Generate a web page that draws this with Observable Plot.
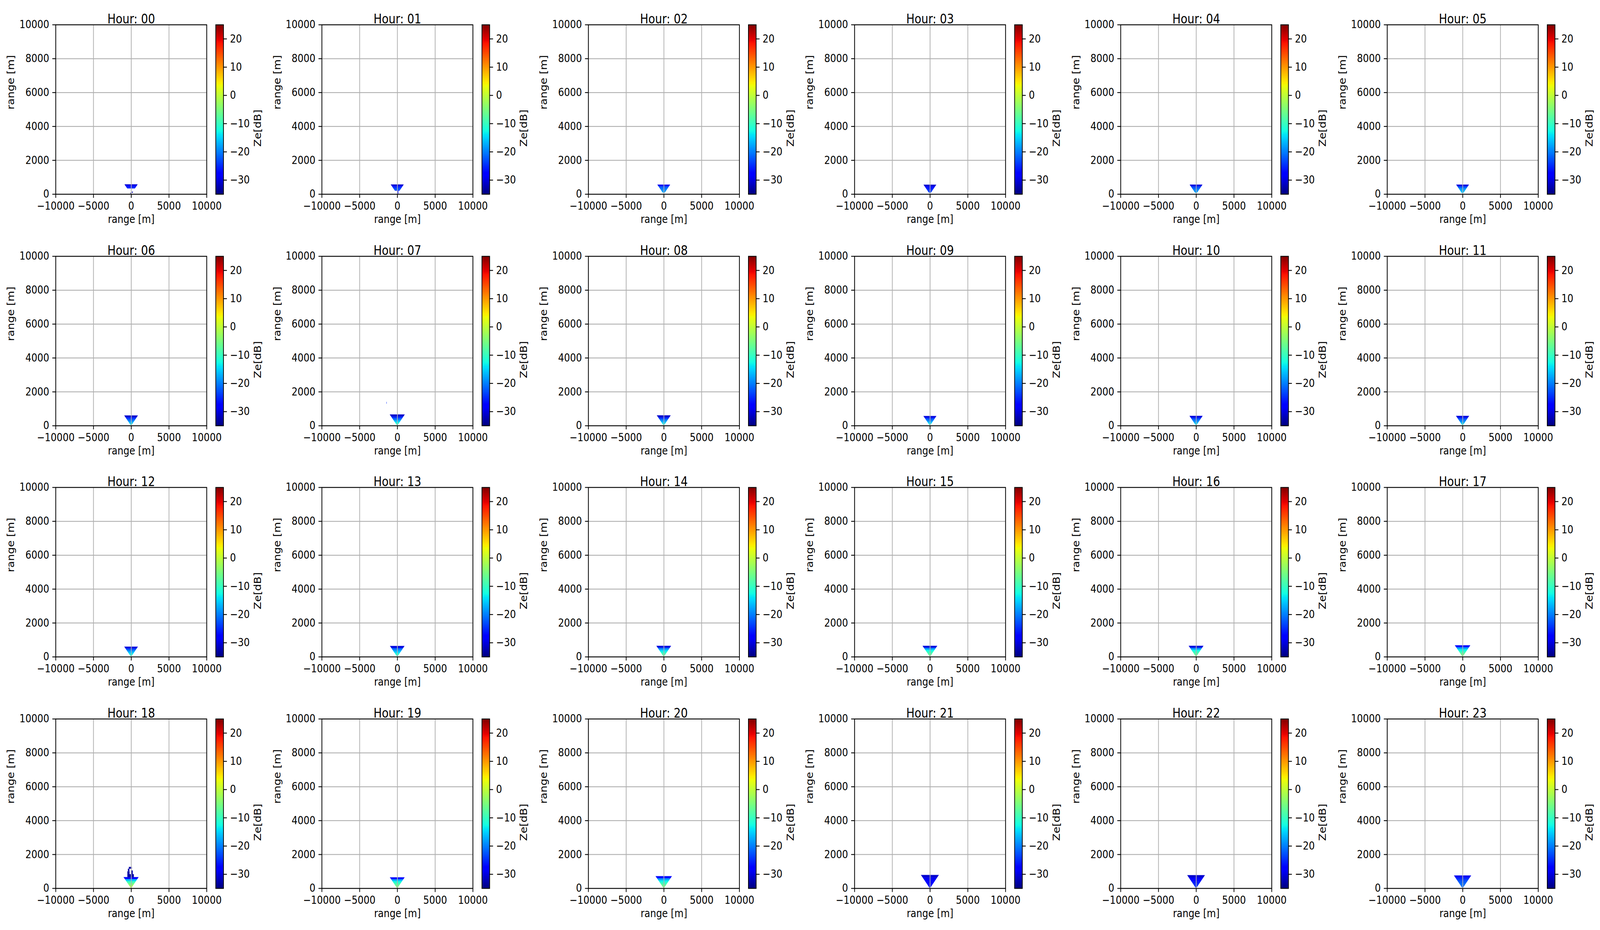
<!DOCTYPE html>
<html><head><meta charset="utf-8">
<script src="https://cdn.jsdelivr.net/npm/d3@7"></script>
<script src="https://cdn.jsdelivr.net/npm/@observablehq/plot@0.6"></script>
<style>
html,body{margin:0;padding:0;background:#fff;overflow:hidden;}
#wrap{position:relative;overflow:hidden;background:#fff;width:4779px;height:2382px;}
#fig{position:absolute;left:0;top:0;width:4779px;height:2382px;overflow:hidden;background:#fff;transform-origin:0 0;}
</style></head><body><div id="wrap"><div id="fig"></div></div>
<script>
// ---------- data ----------
const hours = ["00","01","02","03","04","05","06","07","08","09","10","11",
               "12","13","14","15","16","17","18","19","20","21","22","23"];
// top height of the echo fan (m)
const echoTop  = [568,560,553,550,553,553, 592,650,600,560,568,568,
                  590,630,637,637,640,670, 652,640,710,780,768,747];
// lowest height with echo (m)
const echoBase = [338,205,90,90,80,70, 30,30,30,30,20,20,
                  20,20,20,20,20,20, 10,10,10,30,40,50];
// half-width / height ratio of the scan sector
const coneSlope = 1.5;
// Ze [dB] in equal height bands, bottom -> top
const zeBands = [
  [-26,-25,-26,-27,-28,-31], [-24,-22,-24,-25,-27,-31], [-18,-19,-20,-21,-23,-29],
  [-24,-24,-25,-26,-27,-31], [-18,-19,-20,-22,-24,-30], [-16,-17,-18,-20,-23,-30],
  [-13,-16,-19,-22,-25,-31], [-10,-13,-17,-21,-25,-31], [-12,-15,-18,-21,-25,-31],
  [-12,-15,-18,-21,-24,-30], [-13,-16,-19,-21,-24,-30], [-13,-16,-19,-21,-24,-30],
  [-11,-13,-16,-19,-23,-30], [-10,-12,-15,-18,-22,-30], [-7,-9,-12,-15,-20,-30],
  [-6,-8,-10,-13,-19,-30],   [-6,-8,-10,-13,-19,-30],   [-5,-7,-10,-13,-18,-28],
  [0,-3,-6,-10,-16,-28],     [-4,-6,-9,-12,-17,-28],    [-5,-7,-10,-13,-18,-28],
  [-27,-27,-28,-28,-29,-31], [-25,-25,-26,-27,-28,-31], [-21,-21,-22,-23,-25,-29]
];
// isolated echoes: hour index, x1, x2, z1, z2 (m), Ze (dB)
const extraHour = [0, 0, 1, 7, 18, 18, 18, 18, 18];
const extraX1   = [-100, 100, 50, -1430, -490, -490, -420, 0, -300];
const extraX2   = [50, 250, 150, -1390, 370, -200, -220, 220, 100];
const extraZ1   = [30, 80, 20, 1290, 650, 830, 1000, 830, 1150];
const extraZ2   = [80, 140, 200, 1400, 830, 1000, 1150, 1050, 1260];
const extraZe   = [-33, -33, -28, -25, -33, -33, -33, -33, -33];

const xTicks = [-10000, -5000, 0, 5000, 10000];
const yTicks = [0, 2000, 4000, 6000, 8000, 10000];
const cbTicks = [-30, -20, -10, 0, 10, 20];
const zeDomain = [-35, 25];
const xDomain = [-10000, 10000];
const yDomain = [0, 10000];
const axisLabel = "range [m]";
const cbLabel = "Ze[dB]";

// ---------- matplotlib "jet" colormap ----------
function seg(pts, t) {
  for (let i = 1; i < pts.length; i++) {
    if (t <= pts[i][0]) {
      const [x0, y0] = pts[i-1], [x1, y1] = pts[i];
      return y0 + (y1 - y0) * (t - x0) / (x1 - x0);
    }
  }
  return pts[pts.length-1][1];
}
function jet(t) {
  t = Math.max(0, Math.min(1, t));
  const r = seg([[0,0],[0.35,0],[0.66,1],[0.89,1],[1,0.5]], t);
  const g = seg([[0,0],[0.125,0],[0.375,1],[0.64,1],[0.91,0],[1,0]], t);
  const b = seg([[0,0.5],[0.11,1],[0.34,1],[0.65,0],[1,0]], t);
  return d3.rgb(r*255, g*255, b*255).formatHex();
}
const colorScale = {type: "linear", domain: zeDomain, interpolate: jet, clamp: true};

// ---------- build tables ----------
const bandRows = [];
hours.forEach((h, i) => {
  const vals = zeBands[i], n = vals.length;
  const z0 = echoBase[i], z1 = echoTop[i];
  vals.forEach((v, j) => {
    const a = z0 + (z1 - z0) * j / n, b = z0 + (z1 - z0) * (j + 1) / n;
    for (const z of [a, b]) bandRows.push({hour: i, band: j, z, xl: -coneSlope * z, xr: coneSlope * z, ze: v});
  });
});
const extras = extraHour.map((h, k) => ({hour: h, x1: extraX1[k], x2: extraX2[k], z1: extraZ1[k], z2: extraZ2[k], ze: extraZe[k]}));

// ---------- layout (designed at 4779x2382, fitted to the window) ----------
const W = 4779, H = 2382;
const colPitch = 795.3, rowPitch = 592.7;
const cellW = 795, cellH = 593;
const mTop = 63, mBottom = 96, mLeft = 166, mRight = 178;
const cbLeft = 644, cbW = 23, cbSvgW = 151;
const tick = 9.7, lw = 2.2, fs = 28;
const fmt = d3.format("d");
const wrap = document.getElementById("wrap");
const fig = document.getElementById("fig");
const vw = window.innerWidth || W, vh = window.innerHeight || H;
const sx = vw / W, sy = vh / H;
if (Math.abs(sx - 1) > 0.001 || Math.abs(sy - 1) > 0.001) {
  fig.style.transform = `scale(${sx}, ${sy})`;
  wrap.style.width = vw + "px";
  wrap.style.height = vh + "px";
}

hours.forEach((h, i) => {
  const c = i % 6, r = Math.floor(i / 6);
  const left = Math.round(c * colPitch), top = Math.round(r * rowPitch);

  const main = Plot.plot({
    width: cellW, height: cellH,
    marginTop: mTop, marginBottom: mBottom, marginLeft: mLeft, marginRight: mRight,
    x: {domain: xDomain, inset: 0},
    y: {domain: yDomain, inset: 0},
    color: colorScale,
    style: {position: "absolute", left: left + "px", top: top + "px", background: "transparent",
            fontFamily: "DejaVu Sans", fontSize: fs + "px", color: "black", overflow: "visible", maxWidth: "none"},
    marks: [
      Plot.areaX(bandRows.filter(d => d.hour === i), {y: "z", x1: "xl", x2: "xr", z: "band", fill: "ze", stroke: "ze", strokeWidth: 0.6}),
      Plot.rect(extras.filter(d => d.hour === i), {x1: "x1", x2: "x2", y1: "z1", y2: "z2", fill: "ze"}),
      Plot.gridX(xTicks, {stroke: "#b0b0b0", strokeOpacity: 1, strokeWidth: lw}),
      Plot.gridY(yTicks, {stroke: "#b0b0b0", strokeOpacity: 1, strokeWidth: lw}),
      Plot.frame({stroke: "black", strokeWidth: lw}),
      Plot.axisX({ticks: xTicks, tickFormat: fmt, tickSize: tick, tickPadding: tick, fontSize: fs, strokeWidth: lw, label: null}),
      Plot.axisY({ticks: yTicks, tickFormat: fmt, tickSize: tick, tickPadding: tick, fontSize: fs, strokeWidth: lw, label: null}),
      Plot.text(["Hour: " + h], {text: d => d, frameAnchor: "top", dy: -27, fontSize: 33}),
      Plot.text([axisLabel], {text: d => d, frameAnchor: "bottom", dy: 73, fontSize: fs}),
      Plot.text([axisLabel], {text: d => d, frameAnchor: "left", dx: -133, rotate: -90, fontSize: fs})
    ]
  });
  fig.appendChild(main);

  const step = 60 / 256;
  const ramp = d3.range(256).map(k => zeDomain[0] + k * step);
  const cb = Plot.plot({
    width: cbSvgW, height: cellH,
    marginTop: mTop, marginBottom: mBottom, marginLeft: 0, marginRight: cbSvgW - cbW,
    y: {domain: zeDomain, inset: 0},
    color: colorScale,
    style: {position: "absolute", left: (left + cbLeft) + "px", top: top + "px", background: "transparent",
            fontFamily: "DejaVu Sans", fontSize: fs + "px", color: "black", overflow: "visible", maxWidth: "none"},
    marks: [
      Plot.rect(ramp, {y1: d => d, y2: d => d + step * 1.05, fill: d => d + step / 2, shapeRendering: "crispEdges"}),
      Plot.frame({stroke: "black", strokeWidth: lw}),
      Plot.axisY({anchor: "right", ticks: cbTicks, tickFormat: fmt, tickSize: tick, tickPadding: tick, fontSize: fs, strokeWidth: lw, label: null}),
      Plot.text([cbLabel], {text: d => d, frameAnchor: "right", dx: 103, rotate: -90, fontSize: fs})
    ]
  });
  fig.appendChild(cb);
});
</script></body></html>
